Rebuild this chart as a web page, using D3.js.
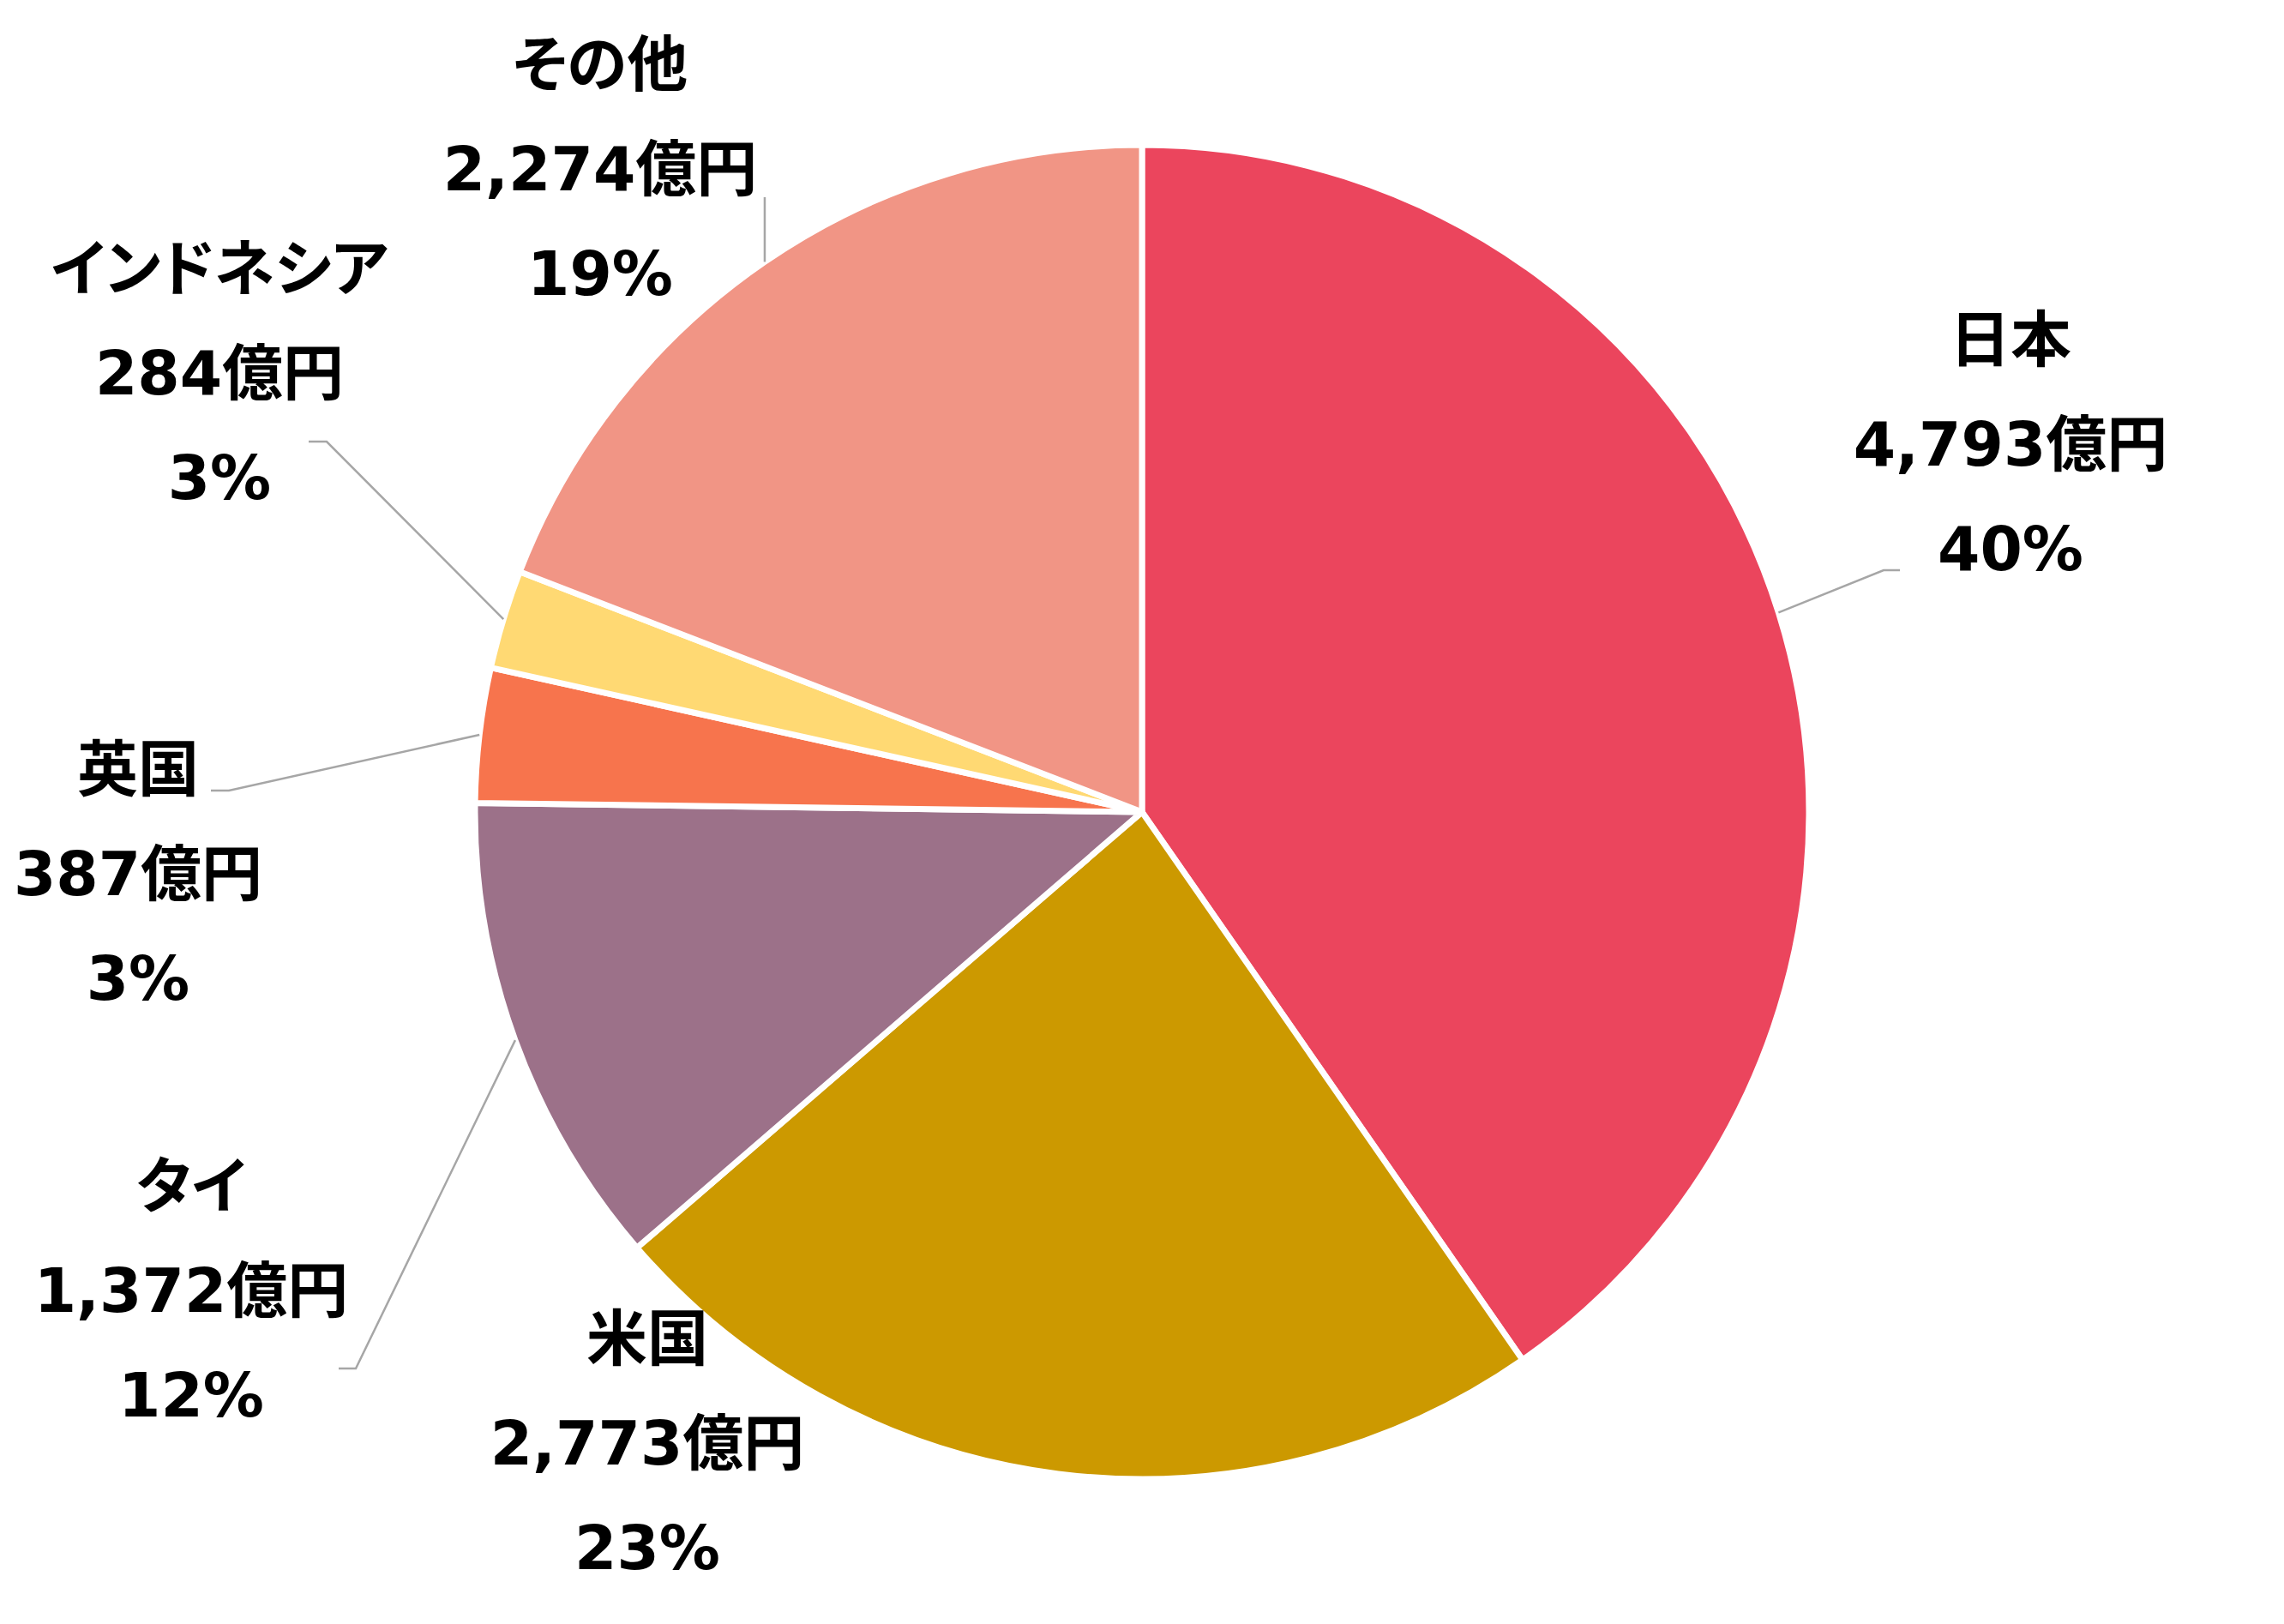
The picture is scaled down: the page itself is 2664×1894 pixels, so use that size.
<!DOCTYPE html>
<html>
<head>
<meta charset="utf-8">
<script src="https://cdn.jsdelivr.net/npm/d3@7"></script>
<style>
  html, body { margin: 0; padding: 0; background: #ffffff; }
  svg text {
    font-family: "DejaVu Sans", "Noto Sans CJK JP", sans-serif;
    font-weight: bold;
    font-feature-settings: "palt";
  }
</style>
</head>
<body>
<svg id="chart" width="2664" height="1894"></svg>
<script>
// ---- data ----
const categories = ["日本", "米国", "タイ", "英国", "インドネシア", "その他"];
const values = [4793, 2773, 1372, 387, 284, 2274];
const valueLabels = ["4,793億円", "2,773億円", "1,372億円", "387億円", "284億円", "2,274億円"];
const percentLabels = ["40%", "23%", "12%", "3%", "3%", "19%"];
const colors = ["#EB455D", "#CC9900", "#9C7189", "#F7744D", "#FFD973", "#F19585"];

// ---- layout ----
const W = 2664, H = 1894;
const cx = 1332, cy = 947, R = 778;
const lineGap = 122;
// first-line centre of each label
const labelAnchors = [[2345, 395], [755, 1560], [223, 1382], [161, 896], [256, 312], [700, 74]];
// leader elbow / end (null = no leader); "vertical" = straight up to y
const leaders = [
  {elbow: [2197, 665], end: [2216, 665]},
  null,
  {elbow: [415, 1596], end: [395, 1596]},
  {elbow: [267, 922], end: [246, 922]},
  {elbow: [381, 515], end: [360, 515]},
  {upTo: 230}
];

const svg = d3.select("#chart");
const g = svg.append("g").attr("transform", `translate(${cx},${cy})`);

const pie = d3.pie().sort(null).value(d => d.value).startAngle(0).endAngle(2 * Math.PI);
const data = categories.map((c, i) => ({cat: c, value: values[i], color: colors[i], i}));
const arcs = pie(data);

const arc = d3.arc().innerRadius(0).outerRadius(R);
const edge = d3.arc().innerRadius(R).outerRadius(R);

g.selectAll("path.slice")
  .data(arcs)
  .join("path")
  .attr("class", "slice")
  .attr("d", arc)
  .attr("fill", d => d.data.color)
  .attr("stroke", "#ffffff")
  .attr("stroke-width", 7)
  .attr("stroke-linejoin", "round");

// leader lines
arcs.forEach((d, i) => {
  const L = leaders[i];
  if (!L) return;
  const [ex, ey] = edge.centroid(d);
  const sx = ex + cx, sy = ey + cy;
  let pts;
  if (L.upTo !== undefined) {
    pts = [[sx, sy], [sx, L.upTo]];
  } else {
    pts = [[sx, sy], L.elbow, L.end];
  }
  svg.append("path")
    .attr("d", d3.line()(pts))
    .attr("fill", "none")
    .attr("stroke", "#A6A6A6")
    .attr("stroke-width", 2.5);
});

// labels
const fontSize = 71;
arcs.forEach((d, i) => {
  const [lx, ly] = labelAnchors[i];
  const lines = [categories[i], valueLabels[i], percentLabels[i]];
  const t = svg.append("text")
    .attr("text-anchor", "middle")
    .attr("font-size", fontSize)
    .attr("fill", "#000000");
  lines.forEach((s, k) => {
    t.append("tspan")
      .attr("x", lx)
      .attr("y", ly + 26 + k * lineGap)
      .text(s);
  });
});
</script>
</body>
</html>
